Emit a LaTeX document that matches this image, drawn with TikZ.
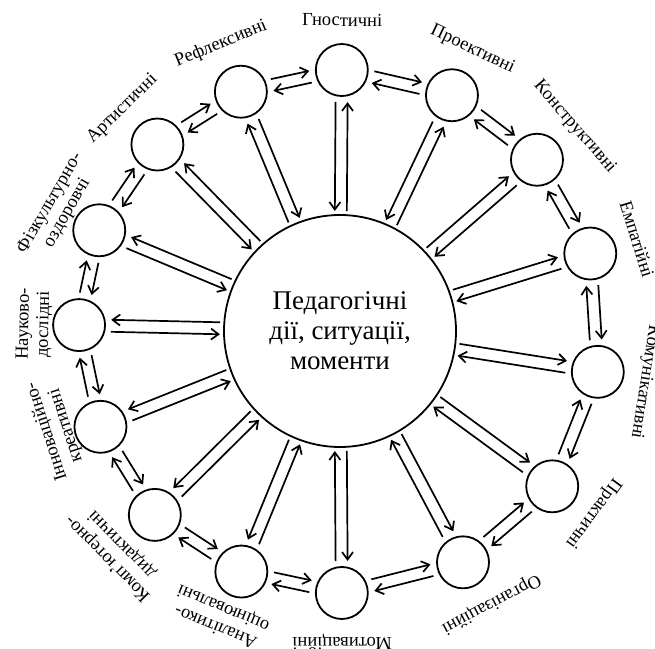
\documentclass[tikz,border=0pt]{standalone}
\usepackage{fontspec}
\setmainfont{Liberation Serif}
\usetikzlibrary{arrows.meta,calc}
\newcommand\onearr[5]{%
  \path ($(#1)!#5!90:(#2)$) coordinate (tmpa) ($(#2)!#5!-90:(#1)$) coordinate (tmpb);
  \draw[arr] ($(tmpa)!#3!(tmpb)$) -- ($(tmpb)!#4!(tmpa)$);}
\newcommand\dbl[5]{\onearr{#1}{#2}{#3}{#4}{#5}\onearr{#2}{#1}{#4}{#3}{#5}}
\begin{document}
\begin{tikzpicture}[x=1pt,y=1pt,
  small/.style={circle,draw,line width=1.8pt,minimum size=52pt,inner sep=0pt},
  big/.style={circle,draw,line width=1.8pt,minimum size=232pt,inner sep=0pt,align=center,
    font=\fontsize{27}{30}\selectfont},
  lab/.style={align=center,inner sep=0pt,font=\fontsize{18.5}{20}\selectfont},
  arr/.style={line width=1.7pt,-{Straight Barb[length=7.5pt,width=11pt]}}]
\useasboundingbox (0,0) rectangle (655,648);
\node[big] (C) at (340,317) {Педагогічні\\дії, ситуації,\\моменти};
% small circles
\node[small] (G)  at ($(C)+(89.6:261)$) {};
\node[small] (P)  at ($(C)+(64.6:261)$) {};
\node[small] (K)  at ($(C)+(41.0:261)$) {};
\node[small] (E)  at ($(C)+(17.2:262)$) {};
\node[small] (Km) at ($(C)+(-9.0:261)$) {};
\node[small] (Pr) at ($(C)+(-36.2:263)$) {};
\node[small] (O)  at ($(C)+(-62.0:262)$) {};
\node[small] (M)  at ($(C)+(-89.6:262)$) {};
\node[small] (A)  at ($(C)+(-112.3:260)$) {};
\node[small] (Kd) at ($(C)+(-135.2:261)$) {};
\node[small] (I)  at ($(C)+(-158.2:258)$) {};
\node[small] (N)  at ($(C)+(178.7:261)$) {};
\node[small] (F)  at ($(C)+(157.3:261)$) {};
\node[small] (Ar) at ($(C)+(134.4:261)$) {};
\node[small] (R)  at ($(C)+(112.5:259)$) {};
% labels
\node[lab,rotate=-0.4]   (lG)  at ($(C)+(89.6:311)$) {Гностичні};
\node[lab,rotate=-25.4]  (lP)  at ($(C)+(64.8:311)$) {Проективні};
\node[lab,rotate=-49]    (lK)  at ($(C)+(41.0:311)$) {Конструктивні};
\node[lab,rotate=-72.8]  (lE)  at ($(C)+(17.2:311)$) {Емпатійні};
\node[lab,rotate=-99]    (lKm) at ($(C)+(-9.5:309)$) {Комунікативні};
\node[lab,rotate=-126.2] (lPr) at ($(C)+(-35.8:312)$) {Практичні};
\node[lab,rotate=-152]   (lO)  at ($(C)+(-61.0:312)$) {Організаційні};
\node[lab,rotate=-179.6] (lM)  at ($(C)+(-89.6:311)$) {Мотиваційні};
\node[lab,rotate=157.7]  (lA)  at ($(C)+(-112.8:310)$) {Аналітико-\\оцінювальні};
\node[lab,rotate=134.8]  (lKd) at ($(C)+(-135.6:315)$) {Комп’ютерно-\\дидактичні};
\node[lab,rotate=108]    (lI)  at ($(C)+(-161:300)$) {Інноваційно-\\креативні};
\node[lab,rotate=88.7]   (lN)  at ($(C)+(178.7:306)$) {Науково-\\дослідні};
\node[lab,rotate=60]     (lF)  at ($(C)+(156.4:307)$) {Фізкультурно-\\оздоровчі};
\node[lab,rotate=44.4]   (lAr) at ($(C)+(134.4:311)$) {Артистичні};
\node[lab,rotate=22.5]   (lR)  at ($(C)+(112.5:311)$) {Рефлексивні};
% ring arrows (clockwise)
\dbl{G}{P}{32pt}{32pt}{6pt}
\dbl{P}{K}{32pt}{32pt}{6pt}
\dbl{K}{E}{32pt}{32pt}{6pt}
\dbl{E}{Km}{32pt}{32pt}{6pt}
\dbl{Km}{Pr}{32pt}{32pt}{6pt}
\dbl{Pr}{O}{32pt}{32pt}{6pt}
\dbl{O}{M}{32pt}{32pt}{6pt}
\dbl{M}{A}{32pt}{32pt}{6pt}
\dbl{A}{Kd}{32pt}{32pt}{6pt}
\dbl{Kd}{I}{32pt}{32pt}{6pt}
\dbl{I}{N}{32pt}{32pt}{6pt}
\dbl{N}{F}{32pt}{32pt}{6pt}
\dbl{F}{Ar}{32pt}{32pt}{6pt}
\dbl{Ar}{R}{32pt}{32pt}{6pt}
\dbl{R}{G}{32pt}{32pt}{6pt}
% spokes
\dbl{G}{C}{32pt}{120pt}{-6pt}
\dbl{P}{C}{32pt}{120pt}{-6pt}
\dbl{K}{C}{32pt}{120pt}{6pt}
\dbl{E}{C}{32pt}{120pt}{6pt}
\dbl{Km}{C}{32pt}{120pt}{6pt}
\dbl{Pr}{C}{32pt}{120pt}{6pt}
\dbl{O}{C}{32pt}{120pt}{6pt}
\dbl{M}{C}{32pt}{120pt}{6pt}
\dbl{A}{C}{32pt}{120pt}{-6pt}
\dbl{Kd}{C}{32pt}{120pt}{-6pt}
\dbl{I}{C}{32pt}{120pt}{-6pt}
\dbl{N}{C}{32pt}{120pt}{-6pt}
\dbl{F}{C}{32pt}{120pt}{-6pt}
\dbl{Ar}{C}{32pt}{120pt}{-6pt}
\dbl{R}{C}{32pt}{120pt}{6pt}
\end{tikzpicture}
\end{document}
